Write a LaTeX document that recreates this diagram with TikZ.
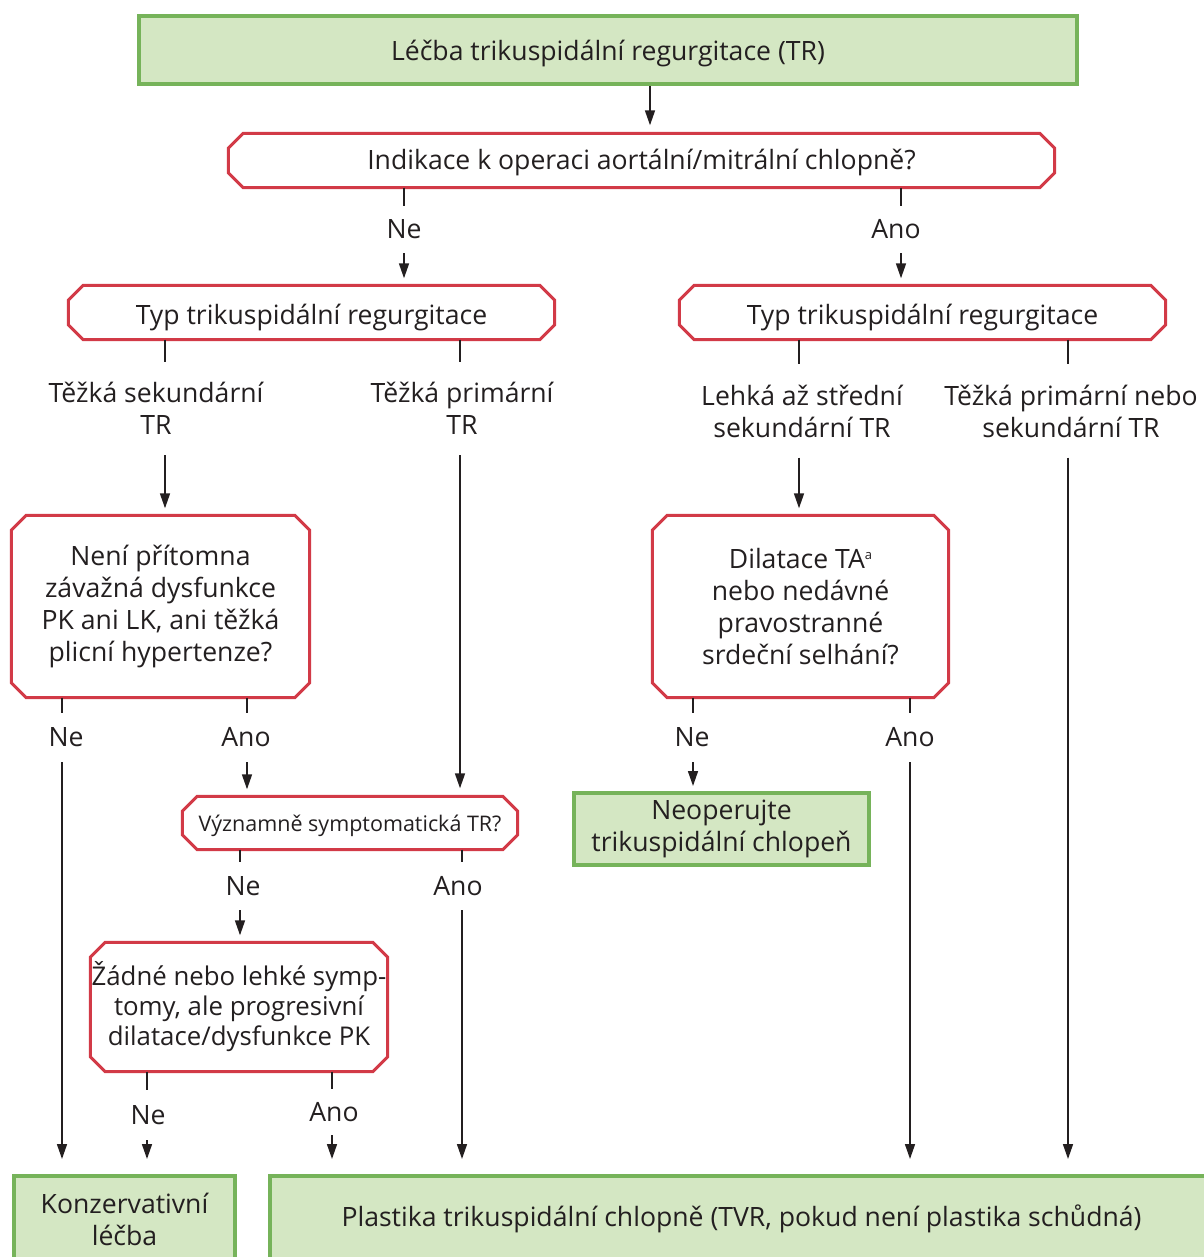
\documentclass[tikz,border=0pt]{standalone}
\usepackage{fontspec}
\setmainfont{Open Sans}
\usetikzlibrary{arrows.meta}
\definecolor{gfill}{HTML}{D4E7C3}
\definecolor{gborder}{HTML}{76B35A}
\definecolor{rborder}{HTML}{D23A47}
\definecolor{txt}{HTML}{231F20}
\tikzset{
  base/.style={font=\fontsize{26.6}{32}\selectfont, text=txt, align=center, inner sep=0pt},
  gbox/.style={base, rectangle, draw=gborder, fill=gfill, line width=4pt},
  obox/.style={base, rectangle},
  lbl/.style={base},
  oneline/.style={text height=#1pt, text depth=0pt},
  redline/.style={draw=rborder, line width=3pt, line join=miter},
  conn/.style={line width=1.6pt, draw=txt},
  arr/.style={conn, -{Triangle[length=15pt,width=10pt]}},
}
% chamfered outline around a named node
\newcommand\octoutline[2][15]{%
  \draw[redline] ([xshift=#1pt]#2.north west) -- ([xshift=-#1pt]#2.north east)
    -- ([yshift=-#1pt]#2.north east) -- ([yshift=#1pt]#2.south east)
    -- ([xshift=-#1pt]#2.south east) -- ([xshift=#1pt]#2.south west)
    -- ([yshift=#1pt]#2.south west) -- ([yshift=-#1pt]#2.north west) -- cycle;}
% from node, label, to node, x of the line
\newcommand\flowbranch[5][7]{%
  \draw[conn] (#2.south -| #5,0) -- (#3.north -| #5,0);
  \draw[arr, shorten >=#1pt] (#3.south -| #5,0) -- (#4.north -| #5,0);}
\newcommand\supa{{\fontsize{13}{13}\selectfont\raisebox{9pt}{a}}}
\begin{document}
\begin{tikzpicture}[x=1pt,y=-1pt]
\useasboundingbox (0,0) rectangle (1203,1257);

% boxes
\node[gbox, oneline=22, minimum width=938, minimum height=68] (top) at (608,50) {Léčba trikuspidální regurgitace (TR)};
\node[obox, oneline=18, minimum width=826, minimum height=54] (o1) at (641.5,160.5) {Indikace k operaci aortální/mitrální chlopně?};
\node[obox, oneline=24, minimum width=486, minimum height=54] (o2l) at (311.5,312.5) {Typ trikuspidální regurgitace};
\node[obox, oneline=24, minimum width=486, minimum height=54] (o2r) at (922.5,312.5) {Typ trikuspidální regurgitace};
\node[obox, minimum width=298, minimum height=182] (o3l) at (160.5,606.5) {Není přítomna\\závažná dysfunkce\\PK ani LK, ani těžká\\plicní hypertenze?};
\node[obox, minimum width=296, minimum height=182] (o3r) at (800.5,606.5) {Dilatace TA\supa\\nebo nedávné\\pravostranné\\srdeční selhání?};
\node[obox, oneline=16, minimum width=335, minimum height=53, font=\fontsize{21.5}{26}\selectfont] (o4) at (350,823) {Významně symptomatická TR?};
\node[gbox, minimum width=295, minimum height=72] (neo) at (721.5,829) {Neoperujte\\trikuspidální chlopeň};
\node[obox, minimum width=297, minimum height=129, font=\fontsize{25.8}{30}\selectfont] (o5) at (239,1007) {Žádné nebo lehké symp-\\tomy, ale progresivní\\dilatace/dysfunkce PK};
\node[gbox, minimum width=221, minimum height=86] (kons) at (124.5,1219) {Konzervativní\\léčba};
\node[gbox, oneline=15, minimum width=943, minimum height=86] (plast) at (741.5,1219) {Plastika trikuspidální chlopně (TVR, pokud není plastika schůdná)};

\octoutline{o1}
\octoutline{o2l}
\octoutline{o2r}
\octoutline{o3l}
\octoutline{o3r}
\octoutline{o4}
\octoutline{o5}

% labels
\node[lbl, minimum height=47] (ne1) at (404,229.5) {Ne};
\node[lbl, minimum height=47] (ano1) at (896,229.5) {Ano};
\node[lbl, minimum height=93] (tsek) at (156,408.5) {Těžká sekundární\\TR};
\node[lbl, minimum height=93] (tprim) at (462,408.5) {Těžká primární\\TR};
\node[lbl, minimum height=93] (lehka) at (802,411) {Lehká až střední\\sekundární TR};
\node[lbl, minimum height=93] (tpn) at (1071,411) {Těžká primární nebo\\sekundární TR};
\node[lbl, minimum height=49] (ne3l) at (66,737.5) {Ne};
\node[lbl, minimum height=49] (ano3l) at (246,737.5) {Ano};
\node[lbl, minimum height=49] (ne3r) at (692,737.5) {Ne};
\node[lbl, minimum height=49] (ano3r) at (910,737.5) {Ano};
\node[lbl, minimum height=48] (ne4) at (243,886) {Ne};
\node[lbl, minimum height=48] (ano4) at (458,886) {Ano};
\node[lbl, minimum height=50] (ne5) at (148,1115) {Ne};
\node[lbl, minimum height=46] (ano5) at (334,1112) {Ano};

% connectors
\draw[arr, shorten >=8pt] (top.south -| 650,0) -- (o1.north -| 650,0);
\flowbranch{o1}{ne1}{o2l}{404}
\flowbranch{o1}{ano1}{o2r}{901}
\flowbranch{o2l}{tsek}{o3l}{165}
\flowbranch[8]{o2l}{tprim}{o4}{460}
\flowbranch{o2r}{lehka}{o3r}{799}
\flowbranch[15]{o2r}{tpn}{plast}{1068}
\flowbranch[15]{o3l}{ne3l}{kons}{62}
\flowbranch{o3l}{ano3l}{o4}{247}
\flowbranch[5]{o3r}{ne3r}{neo}{693}
\flowbranch[15]{o3r}{ano3r}{plast}{910}
\flowbranch{o4}{ne4}{o5}{240}
\flowbranch[15]{o4}{ano4}{plast}{462}
\flowbranch[15]{o5}{ne5}{kons}{147}
\flowbranch[15]{o5}{ano5}{plast}{332}
\end{tikzpicture}
\end{document}
